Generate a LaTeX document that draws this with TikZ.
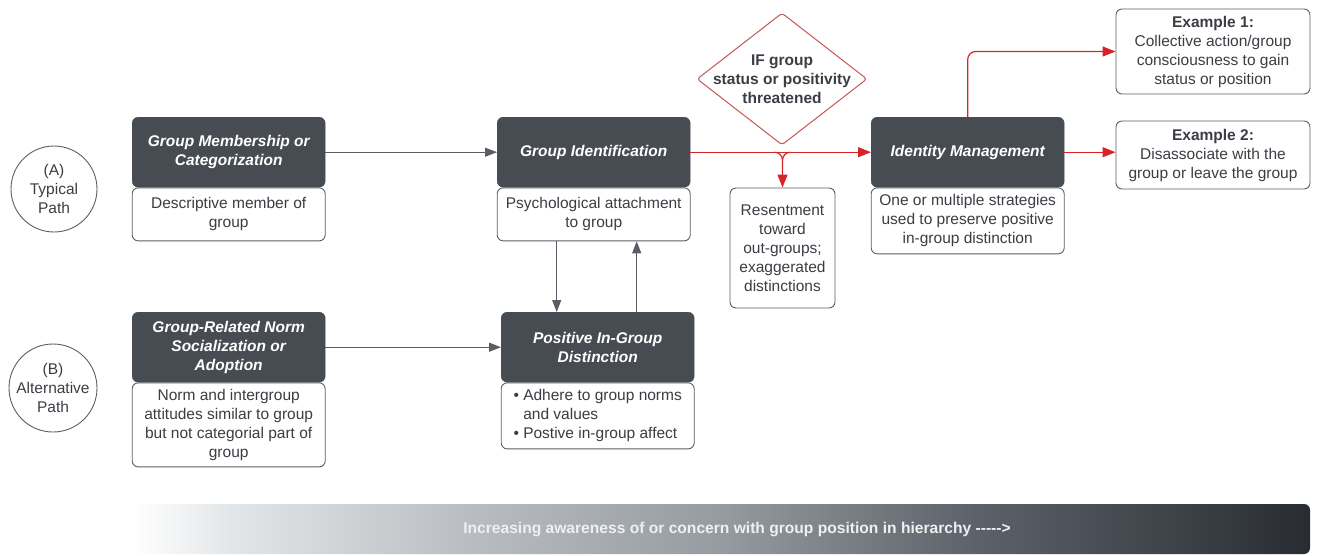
\documentclass[tikz,border=0pt]{standalone}
\usepackage{fontspec}
\setmainfont{Liberation Sans}
\usetikzlibrary{arrows.meta,positioning,shapes.geometric}
\definecolor{slate}{RGB}{71,76,83}
\definecolor{ink}{RGB}{58,62,68}
\definecolor{rule}{RGB}{90,94,100}
\definecolor{alarm}{RGB}{214,36,40}
\definecolor{alarmsoft}{RGB}{196,86,86}
\definecolor{barA}{RGB}{228,231,233}
\definecolor{barB}{RGB}{186,190,194}
\definecolor{barC}{RGB}{150,155,161}
\definecolor{barD}{RGB}{92,97,105}
\definecolor{barE}{RGB}{40,44,50}
\definecolor{barink}{RGB}{238,240,242}
\pgfdeclarehorizontalshading{awareness}{100bp}{color(0bp)=(white);
  color(25bp)=(white); color(29bp)=(barA); color(39bp)=(barB);
  color(50bp)=(barC); color(61bp)=(barD); color(75bp)=(barE); color(100bp)=(barE)}
\newcommand\boxfont{\fontsize{15.5}{19}\selectfont}

\begin{document}
\begin{tikzpicture}[x=1pt, y=-1pt,
    head/.style={rectangle, rounded corners=6pt, fill=slate, draw=slate,
                 text=white, font=\boxfont\bfseries\itshape, align=center,
                 minimum width=193pt, minimum height=70pt, inner sep=2pt,
                 anchor=north west},
    body/.style={rectangle, rounded corners=6pt, draw=rule, line width=0.9pt,
                 fill=white, text=ink, font=\boxfont, align=center,
                 minimum width=193pt, inner sep=2pt},
    note/.style={body, minimum width=105pt},
    route/.style={circle, draw=rule, line width=0.9pt, text=ink,
                  font=\boxfont, align=center, minimum size=86pt, inner sep=0pt},
    threat/.style={diamond, draw=alarmsoft, line width=1pt, rounded corners=3pt,
                   minimum width=170pt, minimum height=132pt, inner sep=0pt},
    iftext/.style={text=ink, font=\boxfont\bfseries, align=center},
    gar/.style={draw=rule, line width=1.1pt, -{Triangle[length=12pt,width=9pt]}},
    rar/.style={draw=alarm, line width=1.2pt, -{Triangle[length=13pt,width=10pt]}},
    bartext/.style={text=barink, font=\fontsize{15.6}{18}\selectfont\bfseries}]
  \useasboundingbox (0,0) rectangle (1317,555);

  % path markers
  \node[route] (pa) at (54,189) {(A)\\Typical\\Path};
  \node[route] (pb) at (53,388) {(B)\\Alternative\\Path};

  % boxes: dark head + white description
  \node[head] (gm) at (132,117) {Group Membership or\\Categorization};
  \node[body, below=0pt of gm, minimum height=53pt] (gmb) {Descriptive member of\\group};
  \node[head] (gi) at (497,117) {Group Identification};
  \node[body, below=0pt of gi, minimum height=53pt] (gib) {Psychological attachment\\to group};
  \node[head] (gn) at (132,312) {Group-Related Norm\\Socialization or\\Adoption};
  \node[body, below=0pt of gn, minimum height=84pt] (gnb)
    {Norm and intergroup\\attitudes similar to group\\but not categorial part of\\group};
  \node[head] (pos) at (501,312) {Positive In-Group\\Distinction};
  \node[body, below=0pt of pos, minimum height=66pt, align=left] (posb)
    {\textbullet\ Adhere to group norms\\\hphantom{\textbullet\ }and values\\\textbullet\ Postive in-group affect};
  \node[head] (im) at (871,117) {Identity Management};
  \node[body, below=0pt of im, minimum height=66pt] (imb)
    {One or multiple strategies\\used to preserve positive\\in-group distinction};

  \node[threat, label={[iftext]center:IF group\\status or positivity\\threatened}] (ifd) at (782,79) {};
  \node[note, minimum height=120pt] (res) at (782.5,248)
    {Resentment\\toward\\out-groups;\\exaggerated\\distinctions};
  \node[body, minimum width=194pt, minimum height=85pt] (ex1) at (1213,51.5)
    {\textbf{Example 1:}\\Collective action/group\\consciousness to gain\\status or position};
  \node[body, minimum width=194pt, minimum height=68pt] (ex2) at (1213,155)
    {\textbf{Example 2:}\\Disassociate with the\\group or leave the group};

  % typical / alternative flow
  \draw[gar] (gm) -- (gi);
  \draw[gar] (gn) -- (pos);
  \draw[gar] ([xshift=-37pt]gib.south) -- ([xshift=-37pt]gib.south |- pos.north);
  \draw[gar] ([xshift=43pt]gib.south |- pos.north) -- ([xshift=43pt]gib.south);

  % threat branch
  \draw[rar] (gi) -- (im);
  \coordinate (fork) at (res.north |- gi.east);
  \draw[rar] ([xshift=-8pt]fork) to[out=0,in=90] ([yshift=-8pt]fork) -- (res);
  \draw[alarm, line width=1.2pt] ([xshift=8pt]fork) to[out=180,in=90] ([yshift=-8pt]fork);
  \draw[rar, rounded corners=8pt] (im.north) |- (ex1);
  \draw[rar] (im.east) -- (im.east -| ex2.west);

  % awareness bar
  \shade[shading=awareness, rounded corners=6pt] (133,504) rectangle (1310,554);
  \node[bartext] (aware) at (737,529)
    {Increasing awareness of or concern with group position in hierarchy -{}-{}-{}-{}->};
\end{tikzpicture}
\end{document}
